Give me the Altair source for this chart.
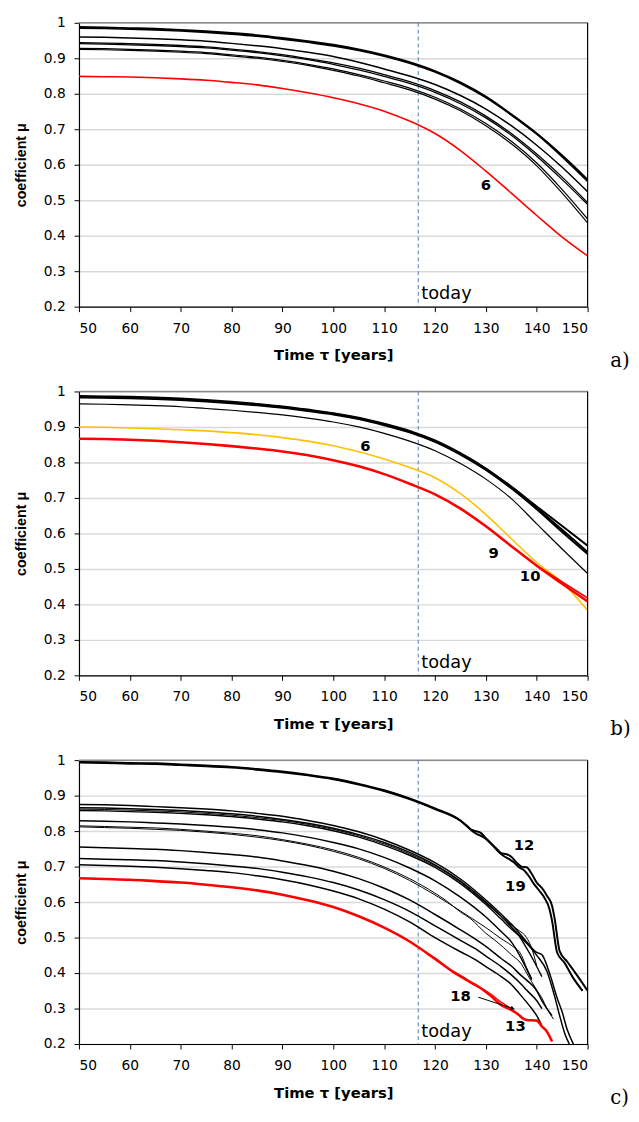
import altair as alt
import pandas as pd

# ---------------- data ----------------
X5 = [50, 55, 60, 65, 70, 75, 80, 85, 90, 95, 100, 105, 110, 115, 120, 125, 130, 135, 140, 145, 150]
X_TICKS = [50, 60, 70, 80, 90, 100, 110, 120, 130, 140, 150]
Y_TICKS = [0.2, 0.3, 0.4, 0.5, 0.6, 0.7, 0.8, 0.9, 1.0]
TODAY = 116.7

# panel a
A1 = [.988, .987, .985, .983, .980, .976, .971, .965, .957, .948, .938, .925, .909, .889, .864, .832, .792, .742, .688, .626, .558]
A2 = [.985, .984, .982, .980, .977, .973, .968, .962, .954, .945, .935, .922, .906, .886, .861, .829, .789, .740, .686, .622, .553]
A3 = [.960, .959, .957, .955, .952, .948, .942, .935, .927, .917, .905, .889, .870, .850, .826, .795, .757, .710, .655, .593, .524]
A4 = [.944, .943, .941, .939, .936, .932, .926, .919, .910, .899, .887, .872, .854, .834, .809, .777, .737, .688, .630, .565, .493]
A5 = [.941, .940, .938, .936, .933, .929, .923, .916, .907, .896, .883, .867, .849, .829, .804, .772, .732, .683, .624, .558, .488]
A6 = [.928, .927, .925, .923, .920, .916, .910, .903, .894, .883, .870, .854, .836, .816, .790, .757, .716, .666, .605, .530, .447]
A7 = [.925, .924, .922, .920, .917, .913, .907, .900, .891, .880, .866, .850, .831, .811, .785, .752, .710, .659, .597, .520, .436]
RA = [.849, .848, .847, .845, .842, .838, .832, .825, .815, .803, .789, .772, .751, .723, .688, .640, .582, .520, .457, .396, .343]

# panel b
B1 = [.987, .986, .985, .983, .980, .976, .971, .965, .958, .949, .939, .926, .909, .889, .862, .826, .783, .732, .676, .621, .565]
B2 = [.985, .984, .983, .981, .978, .974, .969, .963, .956, .947, .937, .924, .907, .887, .860, .824, .781, .729, .671, .610, .548]
B3 = [.983, .982, .981, .979, .976, .972, .967, .961, .954, .945, .935, .922, .905, .885, .858, .822, .779, .727, .668, .604, .542]
B4 = [.965, .964, .962, .960, .957, .952, .947, .941, .934, .925, .914, .900, .882, .860, .833, .797, .753, .698, .627, .556, .487]
YB = [.900, .899, .897, .895, .892, .889, .884, .878, .870, .860, .847, .830, .810, .786, .757, .712, .653, .585, .518, .462, .383]
RB1 = [.867, .866, .864, .861, .857, .852, .846, .839, .831, .820, .806, .789, .767, .740, .710, .670, .620, .564, .509, .458, .408]
RB2_X = [140, 145, 150]
RB2_Y = [.509, .463, .418]

# panel c
C12_X = [50, 55, 60, 65, 70, 75, 80, 85, 90, 95, 100, 105, 110, 115, 120, 125,
         127, 128, 129, 130, 132, 133, 134, 135, 136, 137, 138, 139, 140, 141, 142, 143,
         143.5, 144.5, 146, 148, 150]
C12_Y = [.995, .994, .992, .991, .988, .985, .981, .975, .968, .959, .948, .933, .915, .892, .864, .830,
         .805, .800, .795, .780, .752, .738, .735, .728, .712, .700, .698, .680, .655, .640, .618, .590,
         .555, .462, .432, .392, .350]
C19_X = [50, 55, 60, 65, 70, 75, 80, 85, 90, 95, 100, 105, 110, 115, 120, 125,
         126.5, 127.5, 128.5, 130, 131.5, 132.5, 133.5, 134.5, 135.5, 136.5, 137.5, 138.5, 139.5, 140.5, 141.5, 142.5,
         143, 144, 145.5, 147, 149]
C19_Y = [.993, .992, .990, .989, .986, .983, .979, .973, .966, .957, .946, .931, .913, .890, .862, .829,
         .812, .798, .790, .778, .757, .742, .730, .722, .712, .698, .690, .672, .650, .632, .612, .580,
         .548, .458, .428, .390, .350]

XM = [50, 55, 60, 65, 70, 75, 80, 85, 90, 95, 100, 105, 110, 115, 120]
M1_X = XM + [125, 130, 132, 134, 135, 137.5, 140, 141, 142.5, 144, 145, 146, 147.2]
M1_Y = [.875, .874, .872, .869, .866, .862, .857, .850, .842, .830, .816, .798, .775, .746, .711,
        .665, .606, .580, .552, .538, .497, .458, .452, .400, .330, .290, .240, .200]
M2_X = XM + [125, 130, 133, 135, 137.5, 140, 142, 143.5, 144.5, 145.5, 146.4]
M2_Y = [.866, .865, .863, .861, .858, .854, .849, .842, .833, .822, .808, .790, .768, .740, .705,
        .659, .600, .560, .530, .492, .450, .405, .335, .280, .230, .200]
M3_X = XM + [125, 130, 133, 135, 136.5, 138, 139.5, 141]
M3_Y = [.858, .857, .855, .853, .850, .846, .841, .834, .826, .815, .801, .783, .760, .732, .698,
        .652, .593, .552, .524, .505, .470, .432, .390]
M9_X = XM + [125, 130, 133, 135, 136.5, 138, 139, 140]
M9_Y = [.862, .861, .859, .857, .854, .850, .845, .838, .830, .819, .805, .787, .764, .736, .702,
        .656, .597, .560, .535, .520, .500, .470, .420]
M4_X = XM + [125, 130, 133, 135, 137, 139]
M4_Y = [.829, .828, .826, .823, .820, .816, .811, .804, .795, .783, .768, .750, .726, .696, .660,
        .614, .558, .517, .488, .440, .381]
M5_X = XM + [122, 125, 127, 130, 132, 135, 137, 138, 140, 141, 142, 143.3]
M5_Y = [.815, .813, .811, .809, .805, .800, .794, .787, .776, .763, .747, .726, .699, .666, .625,
        .606, .572, .553, .512, .490, .452, .425, .400, .352, .330, .300, .270]
M10_X = XM + [125, 128, 130, 133, 135, 137, 138, 139]
M10_Y = [.812, .810, .808, .805, .802, .797, .791, .783, .773, .760, .743, .722, .695, .661, .620,
         .575, .547, .528, .497, .478, .450, .415, .385]
M6_X = XM + [125, 128, 130, 133, 135, 137, 138, 140, 141, 142, 143]
M6_Y = [.755, .753, .751, .749, .745, .740, .734, .727, .716, .703, .687, .666, .639, .606, .565,
        .522, .495, .475, .441, .420, .392, .380, .350, .322, .300, .280]
M7_X = XM + [125, 128, 130, 133, 135, 137, 138, 140, 141]
M7_Y = [.723, .721, .719, .717, .713, .708, .702, .695, .684, .671, .655, .634, .607, .574, .533,
        .492, .468, .448, .418, .395, .368, .352, .322, .300]
M8_X = XM + [125, 128, 130, 133, 135, 136, 137, 139, 140, 141]
M8_Y = [.705, .703, .701, .698, .694, .689, .683, .674, .663, .649, .631, .609, .580, .544, .500,
        .460, .437, .418, .390, .368, .352, .335, .300, .280, .252]
R13_X = XM + [124, 126, 129, 131, 133, 135, 136.5, 137.5, 138, 140, 141, 142, 142.5, 143]
R13_Y = [.667, .665, .663, .659, .655, .649, .642, .633, .621, .605, .586, .560, .528, .489, .440,
         .399, .382, .357, .335, .310, .296, .282, .270, .268, .266, .250, .235, .222, .207]
R18_X = [120, 122, 124, 126, 127, 129, 131, 133, 135]
R18_Y = [.442, .420, .401, .385, .372, .358, .340, .318, .300]

# curve labels
LA_T, LA_X, LA_Y = ["6"], [130.0], [0.544]
LB_T, LB_X, LB_Y = ["6", "9", "10"], [106.3, 131.5, 138.7], [0.846, 0.545, 0.481]
LC_T, LC_X, LC_Y = ["12", "19", "18", "13"], [137.5, 135.8, 125.0, 135.8], [0.761, 0.645, 0.335, 0.252]
ARROW_X, ARROW_Y = [128.5, 135.3], [0.332, 0.300]

BLACK, RED, GOLD = "#000000", "#ff0000", "#ffc000"
W, H = 516, 288
FONT = "DejaVu Sans"


def rows(name, xs, ys, color, width):
    return [dict(x=x, y=y, id=name, color=color, w=width, o=i) for i, (x, y) in enumerate(zip(xs, ys))]


xenc = alt.X("x:Q", scale=alt.Scale(domain=[50, 150], nice=False, zero=False),
             axis=alt.Axis(values=X_TICKS, title="Time τ  [years]", grid=False,
                           labelPadding=10, titlePadding=13, format="d"))
yenc = alt.Y("y:Q", scale=alt.Scale(domain=[0.2, 1.0], nice=False, zero=False),
             axis=alt.Axis(values=Y_TICKS, title="coefficient μ", grid=True,
                           labelPadding=9, titlePadding=15,
                           labelExpr="datum.value >= 0.999 ? '1' : format(datum.value, '.1f')"))


def panel(series, lt, lx, ly, letter, arrow=False):
    data = []
    for s in series:
        data += rows(*s)
    df = pd.DataFrame(data)
    top = alt.Chart(pd.DataFrame({"y": [1.0]})).mark_rule(color="#8c8c8c", strokeWidth=1.5).encode(y=yenc)
    lines = alt.Chart(df).mark_line(clip=True, strokeJoin="round", interpolate="monotone").encode(
        x=xenc, y=yenc, detail="id:N", order="o:Q",
        color=alt.Color("color:N", scale=None),
        strokeWidth=alt.StrokeWidth("w:Q", scale=None))
    right = alt.Chart(pd.DataFrame({"x": [150]})).mark_rule(color=BLACK, strokeWidth=1.2).encode(x=xenc)
    today = alt.Chart(pd.DataFrame({"x": [TODAY]})).mark_rule(
        color="#4a7ebb", strokeDash=[4, 3], strokeWidth=1).encode(x=xenc)
    today_t = alt.Chart(pd.DataFrame({"x": [TODAY], "y": [0.235], "t": ["today"]})).mark_text(
        align="left", baseline="middle", dx=3, fontSize=18, font=FONT, color=BLACK).encode(
        x=xenc, y=yenc, text="t:N")
    labs = alt.Chart(pd.DataFrame({"x": lx, "y": ly, "t": lt})).mark_text(
        align="center", baseline="middle", fontSize=15, fontWeight="bold", font=FONT, color=BLACK).encode(
        x=xenc, y=yenc, text="t:N")
    let = alt.Chart(pd.DataFrame({"t": [letter]})).mark_text(
        align="left", baseline="middle", fontSize=20, font="DejaVu Serif", color=BLACK).encode(
        x=alt.value(W + 23), y=alt.value(H + 55), text="t:N")
    layers = [top, today, lines, right, today_t, labs, let]
    if arrow:
        adf = pd.DataFrame({"x": ARROW_X, "y": ARROW_Y})
        shaft = alt.Chart(adf).mark_line(color=BLACK, strokeWidth=1).encode(x=xenc, y=yenc)
        head = alt.Chart(adf.iloc[[1]]).mark_point(shape="triangle-right", filled=True, size=22,
                                                   angle=18, color=BLACK, opacity=1).encode(x=xenc, y=yenc)
        layers += [shaft, head]
    return alt.layer(*layers).properties(width=W, height=H)


pa = panel([
    ("a1", X5, A1, BLACK, 2.0), ("a2", X5, A2, BLACK, 1.6), ("a3", X5, A3, BLACK, 1.5),
    ("a4", X5, A4, BLACK, 1.3), ("a5", X5, A5, BLACK, 1.3), ("a6", X5, A6, BLACK, 1.2),
    ("a7", X5, A7, BLACK, 1.2), ("ra", X5, RA, RED, 1.6)], LA_T, LA_X, LA_Y, "a)")

pb = panel([
    ("b1", X5, B1, BLACK, 2.0), ("b2", X5, B2, BLACK, 2.0), ("b3", X5, B3, BLACK, 2.0),
    ("b4", X5, B4, BLACK, 1.2), ("yb", X5, YB, GOLD, 1.6), ("rb1", X5, RB1, RED, 2.6),
    ("rb2", RB2_X, RB2_Y, RED, 1.6)], LB_T, LB_X, LB_Y, "b)")

pc = panel([
    ("c12", C12_X, C12_Y, BLACK, 2.0), ("c19", C19_X, C19_Y, BLACK, 2.0),
    ("m1", M1_X, M1_Y, BLACK, 1.5), ("m2", M2_X, M2_Y, BLACK, 1.5), ("m3", M3_X, M3_Y, BLACK, 1.4),
    ("m4", M4_X, M4_Y, BLACK, 1.5), ("m5", M5_X, M5_Y, BLACK, 1.0), ("m6", M6_X, M6_Y, BLACK, 1.5),
    ("m7", M7_X, M7_Y, BLACK, 1.5), ("m8", M8_X, M8_Y, BLACK, 1.5), ("m9", M9_X, M9_Y, BLACK, 1.0),
    ("m10", M10_X, M10_Y, BLACK, 1.0), ("r13", R13_X, R13_Y, RED, 2.6), ("r18", R18_X, R18_Y, RED, 1.4)],
    LC_T, LC_X, LC_Y, "c)", arrow=True)

chart = alt.vconcat(pa, pb, pc, spacing=14).properties(
    padding={"left": 5, "top": 0, "right": 0, "bottom": 0}
).configure_view(stroke=None).configure_axis(
    labelFont=FONT, labelFontSize=14,
    labelColor=BLACK, titleColor=BLACK, domainColor=BLACK, tickColor=BLACK,
    tickSize=5, domainWidth=1.2, gridColor="#d9d9d9", gridWidth=1.5
).configure_axisX(
    titleFont=FONT, titleFontSize=15, titleFontWeight="bold"
).configure_axisY(
    titleFont="Liberation Sans", titleFontSize=14.5, titleFontWeight="bold"
)

chart.save("out.html", embed_options={"renderer": "svg", "actions": False})
